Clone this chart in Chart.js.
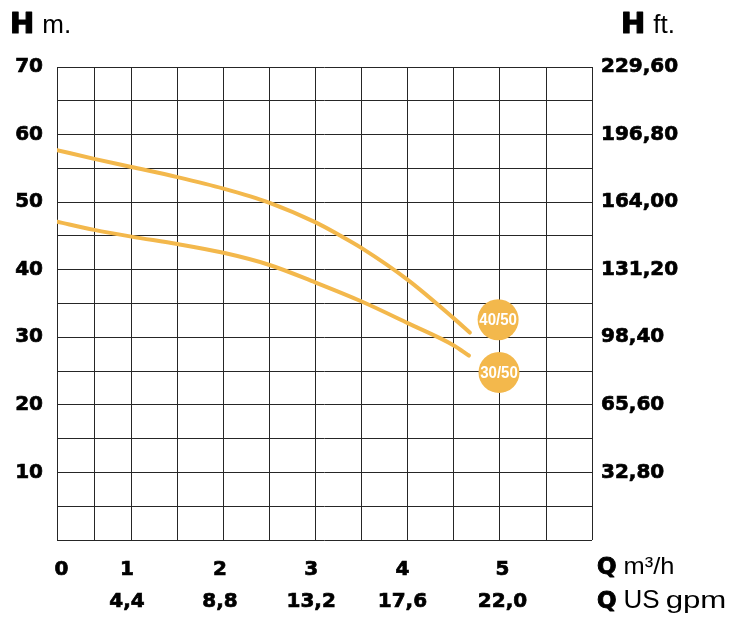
<!DOCTYPE html>
<html>
<head>
<meta charset="utf-8">
<title>H-Q curves 30/50 - 40/50</title>
<script src="https://cdn.jsdelivr.net/npm/chart.js@4"></script>
<style>
  html, body { margin: 0; padding: 0; background: #fff; }
  #wrap { width: 744px; height: 617px; }
</style>
</head>
<body>
<div id="wrap"><canvas id="pumpChart" width="744" height="617"></canvas></div>
<script>
// Flow Q (m3/h) and head H (m)
const q4050 = [0, 0.42, 0.84, 1.36, 1.88, 2.4, 2.92, 3.19, 3.44, 3.96, 4.48, 4.66];
const h4050 = [57.7, 56.4, 55.2, 53.7, 52.0, 49.9, 47.0, 45.1, 43.2, 38.5, 32.8, 30.7];
const q3050 = [0, 0.42, 0.84, 1.36, 1.88, 2.4, 2.92, 3.44, 3.96, 4.48, 4.65];
const h3050 = [47.1, 45.9, 44.9, 43.8, 42.5, 40.7, 38.1, 35.3, 32.1, 28.8, 27.3];

// Model tags next to the curve ends
const tagNames = ['40/50', '30/50'];
const tagQ = [4.98, 4.99];
const tagH = [32.6, 24.8];

// Axis ticks
const gridQ = [0, 0.42, 0.84, 1.36, 1.88, 2.4, 2.92, 3.44, 3.96, 4.48, 5, 5.53, 6.04];
const qTickAt = [0.05, 0.79, 1.84, 2.87, 3.9, 5.03];
const qLabels = ['0', '1', '2', '3', '4', '5'];
const gpmLabels = ['', '4,4', '8,8', '13,2', '17,6', '22,0'];
const mTicks = [0, 5, 10, 15, 20, 25, 30, 35, 40, 45, 50, 55, 60, 65, 70];
const ftTicks = [32.8, 65.6, 98.4, 131.2, 164, 196.8, 229.6];
const ftLabels = ['32,80', '65,60', '98,40', '131,20', '164,00', '196,80', '229,60'];

const orange = '#F3B84C';
const gridColor = '#262626';
const tickFont = { family: '"DejaVu Sans", sans-serif', weight: 'bold', size: 20 };

function toPoints(xs, ys) {
    return xs.map((x, i) => ({ x: x, y: ys[i] }));
}

// draw a row of text pieces one after the other (sx = horizontal stretch)
function drawPieces(ctx, x, y, pieces) {
    pieces.forEach(p => {
        const sx = p.sx || 1;
        ctx.font = p.font;
        ctx.save();
        ctx.translate(x, y);
        ctx.scale(sx, 1);
        if (p.heavy) {
            ctx.lineWidth = p.heavy;
            ctx.strokeText(p.text, 0, 0);
        }
        ctx.fillText(p.text, 0, 0);
        ctx.restore();
        x += ctx.measureText(p.text).width * sx + (p.gap || 0);
    });
}

const unitTitles = {
    id: 'unitTitles',
    afterDatasetsDraw(chart) {
        const ctx = chart.ctx;
        ctx.save();

        // text inside the orange tags
        const meta = chart.getDatasetMeta(2);
        ctx.fillStyle = '#fff';
        ctx.textAlign = 'center';
        ctx.textBaseline = 'middle';
        ctx.font = 'bold 16px "Liberation Sans", Arial, sans-serif';
        meta.data.forEach((pt, i) => {
            ctx.save();
            ctx.translate(pt.x, pt.y + 1);
            ctx.scale(0.94, 1);
            ctx.fillText(tagNames[i], 0, 0);
            ctx.restore();
        });

        // axis unit titles
        const bigH = 'bold 29px "DejaVu Sans", sans-serif';
        const bigQ = 'bold 23px "DejaVu Sans", sans-serif';
        const unitFont = size => size + 'px "Liberation Sans", Arial, sans-serif';
        ctx.fillStyle = '#000';
        ctx.strokeStyle = '#000';
        ctx.lineJoin = 'round';
        ctx.textAlign = 'left';
        ctx.textBaseline = 'alphabetic';
        drawPieces(ctx, 10, 33, [{ text: 'H', font: bigH, heavy: 1.2, gap: 8 }, { text: 'm.', font: unitFont(26) }]);
        drawPieces(ctx, 621, 33, [{ text: 'H', font: bigH, heavy: 1.2, gap: 8 }, { text: 'ft.', font: unitFont(26) }]);
        drawPieces(ctx, 597, 574, [
            { text: 'Q', font: bigQ, heavy: 1, gap: 7 },
            { text: 'm³/h', font: unitFont(24), sx: 1.06 }
        ]);
        drawPieces(ctx, 597, 608, [
            { text: 'Q', font: bigQ, heavy: 1, gap: 7 },
            { text: 'US', font: unitFont(26), gap: 6 },
            { text: 'gpm', font: unitFont(24), sx: 1.3 }
        ]);
        ctx.restore();
    }
};

const chart = new Chart(document.getElementById('pumpChart'), {
    type: 'line',
    data: {
        datasets: [
            {
                label: '40/50',
                data: toPoints(q4050, h4050),
                borderColor: orange,
                borderWidth: 4,
                borderCapStyle: 'round',
                pointRadius: 0,
                cubicInterpolationMode: 'monotone',
                xAxisID: 'x',
                yAxisID: 'y'
            },
            {
                label: '30/50',
                data: toPoints(q3050, h3050),
                borderColor: orange,
                borderWidth: 4,
                borderCapStyle: 'round',
                pointRadius: 0,
                cubicInterpolationMode: 'monotone',
                xAxisID: 'x',
                yAxisID: 'y'
            },
            {
                label: 'tags',
                data: toPoints(tagQ, tagH),
                showLine: false,
                pointRadius: 20.5,
                pointBackgroundColor: orange,
                pointBorderWidth: 0,
                xAxisID: 'x',
                yAxisID: 'y'
            }
        ]
    },
    options: {
        responsive: false,
        animation: false,
        events: [],
        layout: { padding: { top: 67, left: 0, right: 0, bottom: 0 } },
        plugins: {
            legend: { display: false },
            tooltip: { enabled: false }
        },
        scales: {
            x: {
                type: 'linear',
                position: 'bottom',
                min: 0,
                max: gridQ[gridQ.length - 1],
                afterBuildTicks: s => { s.ticks = gridQ.map(v => ({ value: v })); },
                afterFit: s => { s.height = 0; },
                grid: { color: gridColor, lineWidth: 1, drawTicks: false },
                border: { display: false },
                ticks: { display: false }
            },
            xq: {
                type: 'linear',
                position: 'bottom',
                min: 0,
                max: gridQ[gridQ.length - 1],
                afterBuildTicks: s => { s.ticks = qTickAt.map(v => ({ value: v })); },
                afterFit: s => { s.height = 77; },
                grid: { display: false, drawTicks: false },
                border: { display: false },
                ticks: {
                    autoSkip: false,
                    maxRotation: 0,
                    padding: 14,
                    color: '#000',
                    textStrokeColor: '#000',
                    textStrokeWidth: 0.7,
                    font: Object.assign({ lineHeight: 1.6 }, tickFont),
                    callback: (v, i) => gpmLabels[i] ? [qLabels[i], gpmLabels[i]] : qLabels[i]
                }
            },
            y: {
                type: 'linear',
                position: 'left',
                min: 0,
                max: 70,
                afterBuildTicks: s => { s.ticks = mTicks.map(v => ({ value: v })); },
                afterFit: s => { s.width = 57; },
                grid: { color: gridColor, lineWidth: 1, drawTicks: false },
                border: { display: false },
                ticks: {
                    padding: 14,
                    color: '#000',
                    textStrokeColor: '#000',
                    textStrokeWidth: 0.7,
                    font: tickFont,
                    callback: v => (v > 0 && v % 10 === 0) ? String(v) : ''
                }
            },
            y2: {
                type: 'linear',
                position: 'right',
                min: 0,
                max: ftTicks[ftTicks.length - 1],
                afterBuildTicks: s => { s.ticks = ftTicks.map(v => ({ value: v })); },
                afterFit: s => { s.width = 152; },
                grid: { display: false, drawTicks: false },
                border: { display: false },
                ticks: {
                    padding: 9,
                    color: '#000',
                    textStrokeColor: '#000',
                    textStrokeWidth: 0.7,
                    font: tickFont,
                    callback: (v, i) => ftLabels[i]
                }
            }
        }
    },
    plugins: [unitTitles]
});
</script>
</body>
</html>
